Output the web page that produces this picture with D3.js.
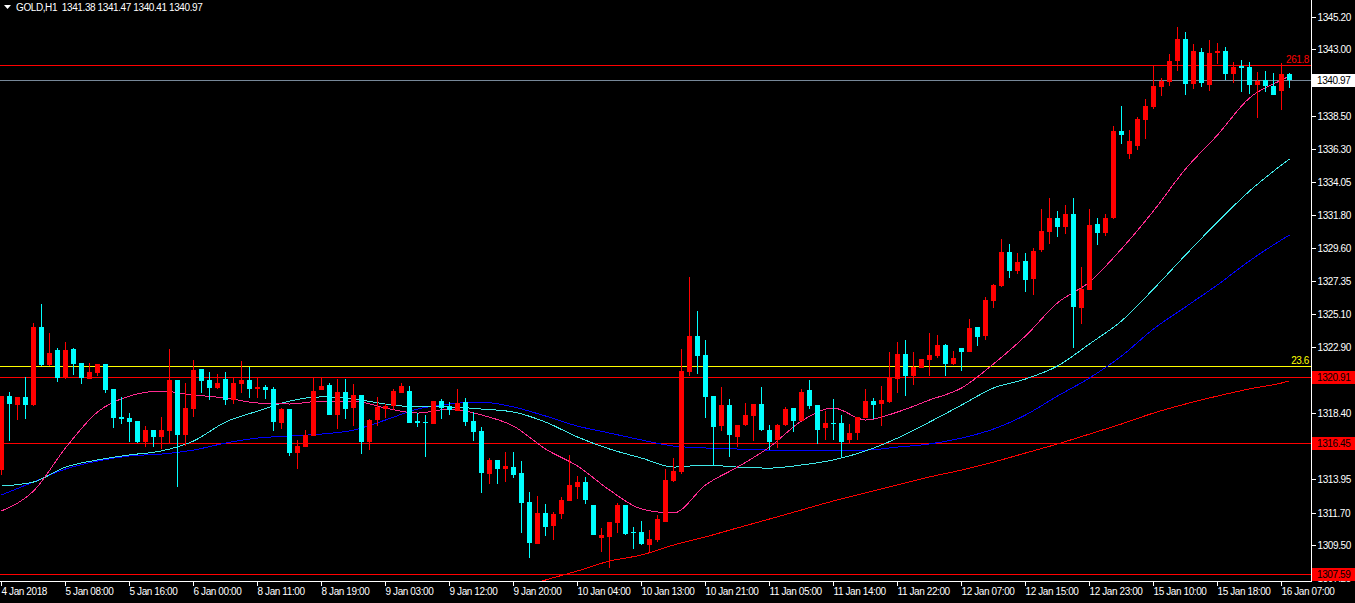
<!DOCTYPE html>
<html><head><meta charset="utf-8">
<script src="https://cdn.jsdelivr.net/npm/d3@7"></script>
<style>
html,body{margin:0;padding:0;background:#000;overflow:hidden}
text{font-family:"Liberation Sans",Arial,sans-serif;font-size:10px;letter-spacing:-0.4px}
</style></head><body>
<svg id="chart" width="1355" height="603"></svg>
<script>
// ---- data (GOLD H1) ----
const symbolTitle = "GOLD,H1  1341.38 1341.47 1340.41 1340.97";
const opens = [1314.61,1319.61,1319.00,1319.55,1319.00,1324.28,1321.71,1322.72,1320.90,1322.79,
1321.84,1320.76,1321.17,1321.78,1320.09,1318.19,1318.12,1317.92,1316.50,1317.31,
1316.84,1317.25,1320.69,1316.98,1318.73,1321.44,1320.69,1320.15,1320.76,1319.34,
1320.42,1320.69,1320.09,1320.22,1320.09,1317.79,1318.73,1315.76,1316.16,1316.91,
1320.02,1320.36,1318.33,1319.88,1318.80,1319.68,1316.50,1317.99,1318.73,1318.93,
1319.82,1319.95,1317.92,1317.85,1317.72,1319.27,1318.93,1318.59,1319.20,1317.92,
1317.25,1314.34,1315.29,1314.68,1314.81,1314.41,1312.45,1309.61,1311.71,1310.83,
1311.64,1312.52,1313.46,1313.80,1312.25,1310.02,1310.09,1311.04,1312.25,1310.43,
1310.43,1309.54,1309.89,1311.10,1313.87,1314.47,1321.24,1323.67,1322.38,1319.61,
1317.58,1319.00,1316.84,1317.65,1318.26,1319.07,1317.31,1316.64,1317.65,1318.80,
1317.92,1320.02,1319.00,1317.45,1317.79,1317.79,1316.64,1317.11,1318.12,1319.27,
1319.07,1319.20,1320.76,1322.45,1320.96,1321.50,1322.05,1322.31,1323.06,1321.78,
1322.86,1322.59,1324.28,1323.67,1326.03,1327.05,1329.35,1328.06,1328.74,1327.52,
1329.48,1330.70,1331.64,1331.04,1331.91,1325.56,1326.77,1331.24,1330.63,1331.64,
1337.52,1335.96,1336.50,1338.26,1339.14,1340.49,1340.83,1342.25,1343.73,1340.69,
1342.86,1340.63,1342.79,1342.92,1341.37,1341.91,1341.84,1340.63,1340.96,1340.56,
1340.22,1341.38];
const highs = [1319.61,1319.88,1319.55,1320.90,1324.55,1325.83,1323.87,1322.86,1323.26,1322.86,
1321.84,1321.84,1321.78,1321.78,1320.09,1319.55,1318.46,1317.92,1317.58,1317.31,
1318.19,1322.79,1320.69,1320.49,1322.05,1321.44,1321.24,1321.10,1321.24,1320.83,
1321.98,1321.57,1320.90,1320.36,1320.22,1318.80,1318.73,1316.64,1317.31,1320.83,
1320.90,1320.49,1320.76,1320.76,1320.42,1319.68,1318.06,1319.55,1319.07,1320.09,
1320.49,1320.29,1318.46,1318.33,1319.27,1319.41,1319.20,1320.09,1319.48,1318.53,
1317.52,1315.42,1315.29,1315.83,1315.83,1315.22,1313.12,1312.86,1312.32,1311.78,
1312.80,1315.63,1314.20,1314.14,1312.25,1310.70,1311.10,1312.39,1312.25,1310.77,
1311.17,1310.56,1311.57,1314.68,1315.42,1322.79,1327.66,1325.36,1323.40,1319.61,
1320.22,1319.41,1317.65,1319.14,1319.07,1320.22,1317.65,1317.72,1318.87,1318.80,
1320.09,1320.69,1319.00,1318.59,1319.41,1318.33,1317.72,1318.19,1320.09,1319.48,
1320.29,1322.59,1323.26,1323.40,1322.59,1322.11,1323.87,1323.74,1323.13,1322.65,
1322.86,1324.82,1324.28,1326.30,1327.18,1330.22,1329.89,1329.28,1329.28,1329.62,
1332.25,1332.99,1332.12,1332.52,1332.99,1328.33,1332.25,1331.64,1331.91,1337.85,
1339.20,1337.58,1338.46,1339.68,1341.91,1341.10,1342.72,1344.55,1344.21,1343.40,
1343.13,1343.67,1343.46,1343.19,1342.18,1342.32,1342.18,1341.50,1341.57,1341.44,
1342.11,1341.47];
const lows = [1314.27,1316.57,1317.99,1318.06,1318.95,1321.64,1321.64,1320.56,1320.76,1321.03,
1320.42,1320.76,1320.96,1319.82,1317.45,1317.72,1316.50,1316.43,1316.16,1316.16,
1316.03,1316.37,1313.46,1316.23,1318.19,1319.82,1319.34,1320.09,1319.00,1319.07,
1319.82,1319.48,1319.48,1319.41,1317.25,1317.38,1315.56,1314.68,1316.16,1316.91,
1320.02,1318.33,1317.38,1318.06,1317.58,1315.69,1315.96,1317.58,1318.12,1318.66,
1319.82,1317.79,1317.52,1315.49,1317.72,1318.06,1318.33,1318.59,1317.58,1316.57,
1313.06,1313.66,1313.66,1313.80,1314.07,1310.36,1308.67,1309.61,1310.16,1309.89,
1311.30,1312.52,1312.66,1312.32,1310.23,1309.07,1307.99,1310.36,1310.23,1309.27,
1309.54,1309.00,1309.75,1311.10,1313.80,1314.34,1320.96,1321.10,1318.12,1314.88,
1317.25,1315.49,1316.16,1317.58,1316.57,1317.25,1315.96,1316.10,1317.58,1317.18,
1317.92,1318.73,1316.37,1316.64,1316.64,1315.49,1316.37,1316.64,1318.12,1318.06,
1317.58,1319.14,1319.82,1319.61,1320.36,1321.50,1320.96,1322.18,1320.96,1321.71,
1321.30,1322.59,1322.99,1323.40,1325.56,1326.98,1327.59,1327.86,1326.64,1326.44,
1329.35,1329.89,1330.36,1330.56,1322.86,1324.48,1326.77,1329.82,1330.43,1331.57,
1336.64,1335.62,1336.24,1336.98,1339.00,1339.88,1340.56,1341.57,1339.95,1340.36,
1340.49,1340.22,1342.05,1340.96,1340.76,1340.15,1340.02,1338.39,1340.15,1339.95,
1338.94,1340.41];
const closes = [1319.61,1319.07,1319.55,1319.00,1324.28,1321.71,1322.52,1320.83,1322.72,1321.78,
1320.83,1321.24,1321.78,1320.02,1318.12,1318.06,1317.85,1316.50,1317.31,1316.84,
1317.31,1320.69,1316.98,1318.80,1321.37,1320.63,1320.15,1320.49,1319.34,1320.49,
1320.69,1320.09,1320.22,1320.02,1317.85,1318.73,1315.76,1316.23,1316.98,1319.95,
1320.29,1318.33,1319.88,1318.73,1319.68,1316.50,1317.99,1318.87,1318.93,1319.95,
1320.29,1317.79,1317.79,1317.79,1319.27,1318.80,1318.66,1319.14,1317.85,1317.18,
1314.41,1315.29,1314.68,1314.88,1314.27,1312.39,1309.68,1311.71,1310.77,1311.64,
1312.59,1313.60,1313.80,1312.59,1310.23,1310.23,1311.10,1312.25,1310.29,1310.36,
1309.61,1309.96,1311.30,1313.93,1314.54,1321.30,1323.67,1322.31,1319.55,1317.52,
1319.00,1316.98,1317.65,1318.33,1319.07,1317.31,1316.50,1317.65,1318.73,1317.92,
1319.88,1318.93,1317.31,1317.79,1317.72,1316.50,1317.11,1318.19,1319.27,1319.00,
1319.34,1320.83,1322.45,1320.96,1321.57,1322.11,1322.38,1323.06,1321.78,1322.18,
1322.59,1324.21,1323.60,1326.10,1327.12,1329.35,1328.06,1328.67,1327.45,1329.41,
1330.77,1331.64,1331.04,1331.91,1325.63,1326.84,1331.17,1330.63,1331.64,1337.52,
1337.25,1336.84,1338.33,1339.20,1340.56,1340.90,1342.25,1343.73,1340.69,1342.92,
1340.76,1342.79,1342.92,1341.37,1341.84,1341.77,1340.63,1340.90,1340.56,1339.95,
1341.37,1340.97];

const xLabels = ["4 Jan 2018","5 Jan 08:00","5 Jan 16:00","6 Jan 00:00","8 Jan 11:00","8 Jan 19:00",
"9 Jan 03:00","9 Jan 12:00","9 Jan 20:00","10 Jan 04:00","10 Jan 13:00","10 Jan 21:00","11 Jan 05:00",
"11 Jan 14:00","11 Jan 22:00","12 Jan 07:00","12 Jan 15:00","12 Jan 23:00","15 Jan 10:00","15 Jan 18:00","16 Jan 07:00"];
const xLabelBars = [0,8,16,24,32,40,48,56,64,72,80,88,96,104,112,120,128,136,144,152,160];
const yTicks = [1345.20,1343.00,1340.75,1338.50,1336.30,1334.05,1331.80,1329.60,1327.35,1325.10,
1322.90,1320.65,1318.40,1316.20,1313.95,1311.70,1309.50,1307.25];

// moving averages sampled every 4 bars
const maBars = [0,4,8,12,16,20,24,28,32,36,40,44,48,52,56,60,64,68,72,76,80,84,88,92,96,100,
104,108,112,116,120,124,128,132,136,140,144,148,152,156,160,161];
const maPink = [1311.85,1313.19,1316.10,1318.53,1319.61,1319.95,1319.68,1319.48,1319.14,1319.07,
1319.27,1319.27,1318.80,1318.46,1318.73,1318.33,1317.58,1316.03,1314.88,1313.26,1311.98,1311.71,
1313.60,1314.81,1316.16,1317.92,1318.80,1317.99,1318.53,1319.34,1320.15,1321.78,1323.67,1325.90,
1327.32,1329.55,1332.12,1334.95,1337.25,1339.75,1340.96,1341.23];
const maCyan = [1313.53,1313.80,1314.81,1315.29,1315.63,1315.90,1316.57,1317.85,1318.59,1319.27,
1319.55,1319.41,1319.07,1318.87,1318.87,1318.73,1318.53,1317.85,1316.84,1316.03,1315.42,1314.81,
1314.95,1314.81,1314.74,1314.95,1315.29,1315.90,1316.77,1317.85,1319.00,1320.15,1320.76,1321.64,
1323.13,1324.68,1326.84,1329.14,1331.37,1333.46,1335.22,1335.63];
const maBlue = [1312.93,1313.80,1314.68,1315.22,1315.56,1315.69,1315.96,1316.43,1316.77,1316.91,
1317.04,1317.31,1317.99,1318.73,1319.07,1319.20,1318.87,1318.26,1317.58,1317.11,1316.64,1316.23,
1316.10,1316.03,1315.96,1315.96,1315.96,1315.96,1316.16,1316.37,1316.77,1317.38,1318.33,1319.61,
1320.83,1322.31,1324.14,1325.63,1327.12,1328.74,1330.16,1330.49];
const maRedBars = [64,68,72,76,80,84,88,92,96,100,104,108,112,116,120,124,128,132,136,140,144,148,152,156,160,161];
const maRed = [1306.51,1307.18,1307.79,1308.46,1308.87,1309.54,1310.09,1310.70,1311.30,1311.91,
1312.52,1313.06,1313.60,1314.14,1314.61,1315.15,1315.76,1316.37,1317.04,1317.72,1318.46,1319.07,
1319.61,1320.09,1320.49,1320.63];

const levelPrices = [1320.91,1316.45,1307.59];
const fibLabels = ["261.8","23.6"];
const fibPrices = [1341.96,1321.64];
const bidPrice = 1340.97;

// ---- drawing ----
const W = 1311, H = 581.3, SVGW = 1355;
const svg = d3.select("#chart");
svg.append("rect").attr("width",1355).attr("height",603).attr("fill","#000");

const x = d3.scaleBand().domain(d3.range(opens.length)).range([-2.5, -2.5 + 8*opens.length]).padding(0);
const y = d3.scaleLinear().domain([1307.092, 1346.369]).range([H, 0]);
const cx = i => x(i) + x.bandwidth()/2;

svg.append("defs").append("clipPath").attr("id","plot")
  .append("rect").attr("x",0).attr("y",0).attr("width",W).attr("height",H);
const plot = svg.append("g").attr("clip-path","url(#plot)");

// horizontal levels
const hl = (p, col) => plot.append("line").attr("x1",0).attr("x2",W)
  .attr("y1",Math.round(y(p))+0.5).attr("y2",Math.round(y(p))+0.5)
  .attr("stroke",col).attr("stroke-width",1).attr("shape-rendering","crispEdges");
hl(fibPrices[0], "#ff0000");
hl(bidPrice, "#778899");
hl(fibPrices[1], "#ffff00");
levelPrices.forEach(p => hl(p, "#ff0000"));

// moving averages
const maLine = (bars, vals, col) => plot.append("path")
  .datum(bars.map((b,k)=>[b, vals[k]]))
  .attr("fill","none").attr("stroke",col).attr("stroke-width",1)
  .attr("shape-rendering","crispEdges")
  .attr("d", d3.line().curve(d3.curveMonotoneX).x(d=>cx(d[0])).y(d=>y(d[1])));
maLine(maRedBars, maRed, "#ff0000");
maLine(maBars, maBlue, "#0000ff");
maLine(maBars, maCyan, "#40e8e8");
maLine(maBars, maPink, "#ff2a90");

// candles
const idx = d3.range(opens.length);
const col = i => closes[i] >= opens[i] ? "#ff0000" : "#00ffff";
const cg = plot.append("g").attr("shape-rendering","crispEdges");
cg.selectAll("line.w").data(idx).join("line").attr("class","w")
  .attr("x1",i=>cx(i)).attr("x2",i=>cx(i))
  .attr("y1",i=>y(highs[i])).attr("y2",i=>y(lows[i]))
  .attr("stroke",col).attr("stroke-width",1);
cg.selectAll("rect.b").data(idx).join("rect").attr("class","b")
  .attr("x",i=>x(i)+1.5).attr("width",5)
  .attr("y",i=>y(Math.max(opens[i],closes[i])))
  .attr("height",i=>Math.max(1, Math.abs(y(opens[i])-y(closes[i]))))
  .attr("fill",col);

// fib labels
plot.append("text").attr("x",1309).attr("y",Math.round(y(fibPrices[0]))-2)
  .attr("text-anchor","end").attr("fill","#ff0000").text(fibLabels[0]);
plot.append("text").attr("x",1309).attr("y",Math.round(y(fibPrices[1]))-2)
  .attr("text-anchor","end").attr("fill","#ffff00").text(fibLabels[1]);

// axes
const yAxis = d3.axisRight(y).tickValues(yTicks).tickSize(4).offset(0)
  .tickFormat(d=>d3.format(".2f")(d));
const gy = svg.append("g").attr("transform",`translate(${W+0.5},0)`).call(yAxis);
gy.select(".domain").remove();
gy.selectAll(".tick line").attr("stroke","#fff").attr("shape-rendering","crispEdges");
gy.selectAll(".tick text").attr("fill","#fff").attr("x",6).attr("dy","0.35em")
  .style("font-family","'Liberation Sans',Arial,sans-serif").style("font-size","10px");

const xAxis = d3.axisBottom(x).tickValues(xLabelBars).tickSize(4).offset(0)
  .tickFormat((d,k)=>xLabels[k]);
const gx = svg.append("g").attr("transform",`translate(0,${Math.round(H)+0.5})`).call(xAxis);
gx.select(".domain").remove();
gx.selectAll(".tick line").attr("stroke","#fff").attr("shape-rendering","crispEdges");
gx.selectAll(".tick text").attr("fill","#fff").attr("text-anchor","start").attr("x",0)
  .attr("y",13.5).attr("dy",0)
  .style("font-family","'Liberation Sans',Arial,sans-serif").style("font-size","10px");

// frame
svg.append("line").attr("x1",W+0.5).attr("x2",W+0.5).attr("y1",0).attr("y2",Math.round(H)+1)
  .attr("stroke","#fff").attr("shape-rendering","crispEdges");
svg.append("line").attr("x1",0).attr("x2",W+1).attr("y1",Math.round(H)+0.5).attr("y2",Math.round(H)+0.5)
  .attr("stroke","#fff").attr("shape-rendering","crispEdges");

// price boxes
const box = (p, bg, fg) => {
  const yy = Math.round(y(p));
  svg.append("rect").attr("x",W+1).attr("y",yy-6).attr("width",SVGW-W-1).attr("height",13)
    .attr("fill",bg).attr("shape-rendering","crispEdges");
  svg.append("text").attr("x",W+6).attr("y",yy).attr("dy","0.35em").attr("fill",fg)
    .text(d3.format(".2f")(p));
};
box(bidPrice, "#ffffff", "#000000");
levelPrices.forEach(p => box(p, "#ff0000", "#000000"));

// header
svg.append("path").attr("d","M4,5 L11,5 L7.5,9 Z").attr("fill","#fff");
svg.append("text").attr("x",16).attr("y",10.5).attr("fill","#fff").attr("xml:space","preserve")
  .style("white-space","pre").text(symbolTitle);
</script>
</body></html>
